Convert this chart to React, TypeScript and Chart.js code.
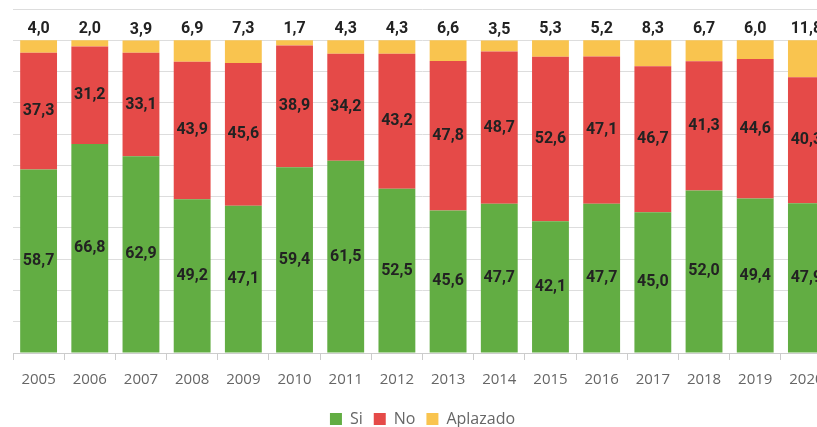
import React, { useEffect, useRef } from "react";
import { Chart, registerables } from "chart.js";

Chart.register(...registerables);

const years = ["2005","2006","2007","2008","2009","2010","2011","2012","2013","2014","2015","2016","2017","2018","2019","2020"];
const siValues = [58.7, 66.8, 62.9, 49.2, 47.1, 59.4, 61.5, 52.5, 45.6, 47.7, 42.1, 47.7, 45.0, 52.0, 49.4, 47.9];
const noValues = [37.3, 31.2, 33.1, 43.9, 45.6, 38.9, 34.2, 43.2, 47.8, 48.7, 52.6, 47.1, 46.7, 41.3, 44.6, 40.3];
const aplazadoValues = [4.0, 2.0, 3.9, 6.9, 7.3, 1.7, 4.3, 4.3, 6.6, 3.5, 5.3, 5.2, 8.3, 6.7, 6.0, 11.8];

const fmt = (v: number) => v.toFixed(1).replace(".", ",");

const labelPlugin = {
  id: "valueLabels",
  afterDatasetsDraw(chart: any) {
    const ctx = chart.ctx;
    ctx.save();
    ctx.font = "bold 16px Roboto";
    ctx.fillStyle = "#222222";
    ctx.textAlign = "center";
    ctx.textBaseline = "middle";
    chart.data.datasets.forEach((ds: any, di: number) => {
      const meta = chart.getDatasetMeta(di);
      meta.data.forEach((bar: any, i: number) => {
        const v = ds.data[i];
        const y = di === 2 ? bar.y - 11 : (bar.y + bar.base) / 2;
        ctx.fillText(fmt(v), bar.x, y);
      });
    });
    ctx.restore();
  },
};

export default function App() {
  const ref = useRef<HTMLCanvasElement>(null);
  useEffect(() => {
    document.documentElement.style.overflow = "hidden";
    document.body.style.overflow = "hidden";
    if (!ref.current) return;
    const chart = new Chart(ref.current, {
      type: "bar",
      data: {
        labels: years,
        datasets: [
          { label: "Si", data: siValues, backgroundColor: "#62AD43" },
          { label: "No", data: noValues, backgroundColor: "#E54A48" },
          { label: "Aplazado", data: aplazadoValues, backgroundColor: "#F9C44F" },
        ],
      },
      options: {
        animation: false,
        responsive: false,
        maintainAspectRatio: false,
        layout: { padding: { left: 5, right: 10, top: 1, bottom: 0 } },
        plugins: {
          legend: {
            position: "bottom",
            labels: {
              boxWidth: 12,
              boxHeight: 12,
              padding: 11,
              color: "#666666",
              font: { family: "Open Sans", size: 16 },
            },
          },
          tooltip: { enabled: false },
        },
        scales: {
          x: {
            stacked: true,
            grid: { display: true, drawOnChartArea: false, drawTicks: true, tickLength: 7, color: "#cccccc" },
            border: { display: true, color: "#cccccc" },
            ticks: { color: "#666666", font: { family: "Open Sans", size: 15 }, padding: 11 },
          },
          y: {
            stacked: true,
            min: 0,
            max: 110,
            ticks: { display: false, stepSize: 10 },
            grid: { color: "#dddddd", drawTicks: false },
            border: { display: false },
          },
        },
      },
      plugins: [labelPlugin],
    });
    return () => chart.destroy();
  }, []);
  return (
    <div style={{ position: "fixed", left: 8, top: 8, width: 834, height: 419, overflow: "hidden" }}>
      <canvas ref={ref} width={834} height={429} style={{ width: 834, height: 429, display: "block" }} />
    </div>
  );
}
